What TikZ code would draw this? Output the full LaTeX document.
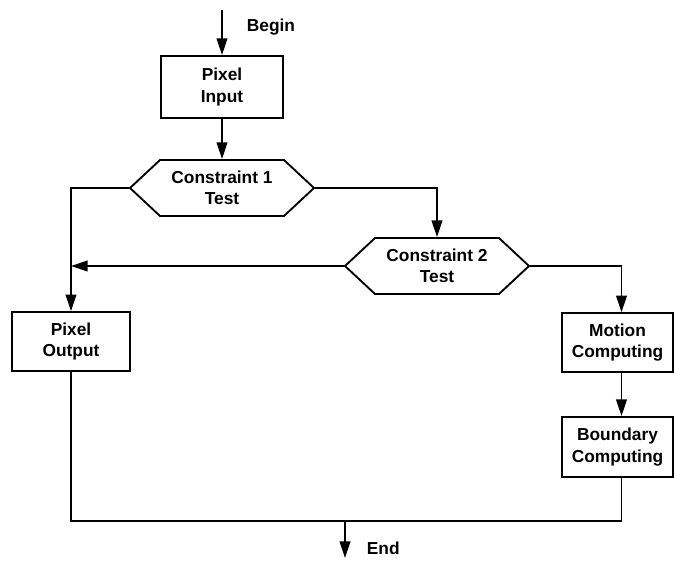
\documentclass[tikz,border=0pt]{standalone}
\usepackage{fontspec}
\setmainfont{Liberation Sans}
\usetikzlibrary{arrows.meta,shapes.symbols,calc}
\begin{document}
\begin{tikzpicture}[x=0.75pt,y=-0.75pt,
  line width=1.4pt,
  font=\bfseries\fontsize{13}{16}\selectfont,
  box/.style={draw, rectangle, align=center, inner sep=0pt},
  hexa/.style={draw, signal, signal to=east and west, signal pointer angle=86,
    align=center, inner sep=0pt, minimum width=138pt, minimum height=42pt},
  flow/.style={-{Triangle[length=12.5pt,width=8pt]}},
  lbl/.style={anchor=base west, inner sep=0pt}
]
\useasboundingbox (0,0) rectangle (674,560);
% nodes
\node[box, minimum width=91pt, minimum height=46.5pt] (pin) at (222,87) {Pixel\\Input};
\node[hexa] (c1) at (222,188) {Constraint 1\\Test};
\node[hexa] (c2) at (437,266) {Constraint 2\\Test};
\node[box, minimum width=88.5pt, minimum height=44pt] (pout) at (71,341.5) {Pixel\\Output};
\node[box, minimum width=83pt, minimum height=44pt] (mc) at (617.5,342.5) {Motion\\Computing};
\node[box, minimum width=83pt, minimum height=45pt] (bc) at (617.5,447) {Boundary\\Computing};
% coordinates
\coordinate (begin) at (222,10);
\coordinate (bl) at (71,521);
\coordinate (endtop) at (345,521);
\coordinate (endtip) at (345,558);
% labels
\node[lbl] (lbegin) at (246,32) {Begin};
\node[lbl] (lend) at (366,554) {End};
% connectors
\draw[flow] (begin) -- (pin.north);
\draw[flow] (pin) -- (c1);
\draw[flow] (c1.west) -| (pout.north);
\draw[flow] (c1.east) -| (c2.north);
\draw[flow] (c2.west) -- (c2.west -| pout.north);
\draw[flow] (c2.east) -| ([xshift=3pt]mc.north);
\draw[flow] ([xshift=3pt]mc.south) -- ([xshift=3pt]bc.north);
\draw (pout.south) -- (bl) -| ([xshift=3pt]bc.south);
\draw[flow] (endtop) -- (endtip);
\end{tikzpicture}
\end{document}
